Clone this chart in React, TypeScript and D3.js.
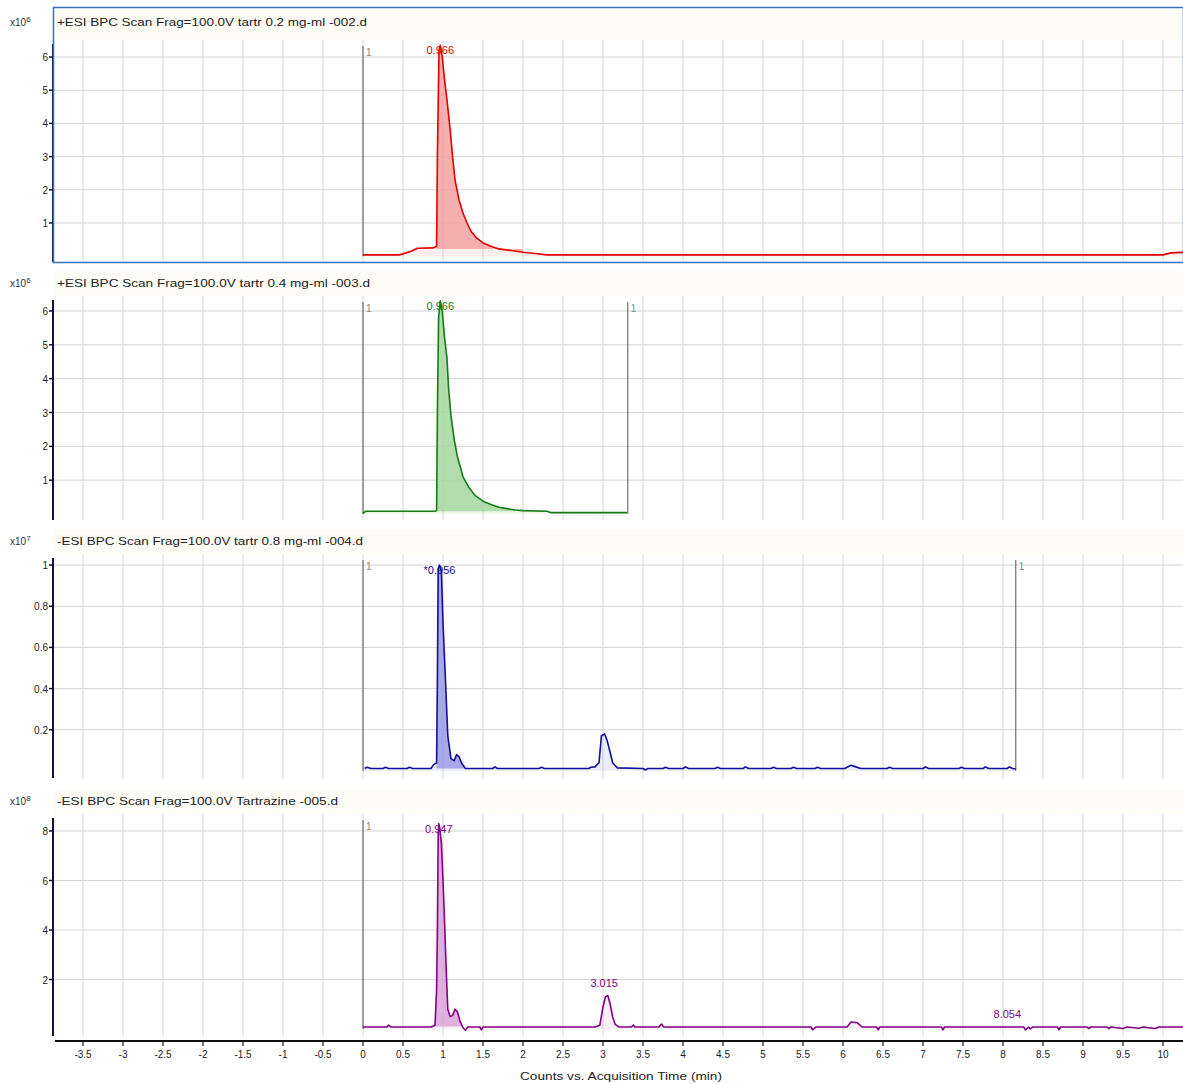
import React from "react";
import * as d3 from "d3";

// ---------- DATA ----------
const xTickValues = [-3.5, -3, -2.5, -2, -1.5, -1, -0.5, 0, 0.5, 1, 1.5, 2, 2.5, 3, 3.5, 4, 4.5, 5, 5.5, 6, 6.5, 7, 7.5, 8, 8.5, 9, 9.5, 10];
const xTickLabels = ["-3.5", "-3", "-2.5", "-2", "-1.5", "-1", "-0.5", "0", "0.5", "1", "1.5", "2", "2.5", "3", "3.5", "4", "4.5", "5", "5.5", "6", "6.5", "7", "7.5", "8", "8.5", "9", "9.5", "10"];
const xAxisTitle = "Counts vs. Acquisition Time (min)";

const panelTitles = [
  "+ESI BPC Scan Frag=100.0V tartr 0.2 mg-ml -002.d",
  "+ESI BPC Scan Frag=100.0V tartr 0.4 mg-ml -003.d",
  "-ESI BPC Scan Frag=100.0V tartr 0.8 mg-ml -004.d",
  "-ESI BPC Scan Frag=100.0V Tartrazine -005.d",
];
const exponents = ["6", "6", "7", "8"];

const yTicks1 = [1, 2, 3, 4, 5, 6];
const yTicks2 = [1, 2, 3, 4, 5, 6];
const yTicks3 = [0.2, 0.4, 0.6, 0.8, 1];
const yTicks4 = [2, 4, 6, 8];

const seriesColors = ["#e00000", "#167a16", "#10109a", "#840084"];
const fillColors = ["#f4a3a3", "#a6d8a0", "#9c9ce6", "#dba6db"];

// [time (min), counts in panel units]
const trace1: [number, number][] = [
  [0, 0.04], [0.45, 0.04], [0.5, 0.07], [0.6, 0.15], [0.68, 0.24], [0.88, 0.25], [0.92, 0.3],
  [0.93, 3.0], [0.95, 6.2], [0.966, 6.35], [0.99, 6.0], [1.02, 5.3], [1.05, 4.7], [1.09, 3.8],
  [1.12, 3.0], [1.15, 2.3], [1.2, 1.7], [1.25, 1.3], [1.3, 1.0], [1.35, 0.75], [1.42, 0.55],
  [1.5, 0.4], [1.6, 0.3], [1.7, 0.22], [1.85, 0.17], [2.0, 0.12], [2.15, 0.08], [2.3, 0.04],
  [5, 0.04], [8, 0.04], [10.0, 0.04], [10.1, 0.1], [10.3, 0.12],
];
const trace2: [number, number][] = [
  [0, 0.02], [0.03, 0.08], [0.5, 0.08], [0.9, 0.08], [0.92, 0.1], [0.93, 3.0], [0.945, 5.8],
  [0.966, 6.3], [0.99, 6.0], [1.02, 5.2], [1.05, 4.6], [1.07, 3.7], [1.1, 2.9], [1.14, 2.2],
  [1.18, 1.7], [1.25, 1.1], [1.32, 0.8], [1.4, 0.55], [1.5, 0.38], [1.6, 0.28], [1.7, 0.2],
  [1.8, 0.16], [1.9, 0.12], [2.0, 0.1], [2.3, 0.08], [2.35, 0.04], [3.0, 0.04], [3.3, 0.04],
];
const trace3: [number, number][] = [
  [0.02, 0.012], [0.05, 0.018], [0.1, 0.012], [0.25, 0.012], [0.28, 0.018], [0.32, 0.012],
  [0.55, 0.012], [0.58, 0.018], [0.62, 0.012], [0.85, 0.012], [0.88, 0.03], [0.92, 0.04],
  [0.93, 0.45], [0.94, 0.98], [0.956, 1.0], [0.98, 0.97], [1.0, 0.72], [1.03, 0.45],
  [1.06, 0.17], [1.1, 0.06], [1.14, 0.05], [1.17, 0.08], [1.2, 0.07], [1.23, 0.04], [1.28, 0.012],
  [1.62, 0.012], [1.65, 0.02], [1.68, 0.012], [2.2, 0.012], [2.23, 0.018], [2.27, 0.012],
  [2.82, 0.012], [2.85, 0.018], [2.9, 0.02], [2.95, 0.04], [2.98, 0.17], [3.02, 0.18],
  [3.05, 0.15], [3.09, 0.09], [3.12, 0.04], [3.18, 0.015], [3.5, 0.012], [3.53, 0.005],
  [3.56, 0.012], [3.75, 0.012], [3.78, 0.018], [3.82, 0.012], [4.0, 0.012], [4.03, 0.02],
  [4.07, 0.012], [4.4, 0.012], [4.43, 0.018], [4.47, 0.012], [4.75, 0.012], [4.78, 0.02],
  [4.82, 0.012], [5.1, 0.012], [5.13, 0.018], [5.17, 0.012], [5.35, 0.012], [5.38, 0.018],
  [5.42, 0.012], [5.65, 0.012], [5.68, 0.018], [5.72, 0.012], [6.02, 0.012], [6.1, 0.028],
  [6.16, 0.02], [6.22, 0.012], [6.55, 0.012], [6.58, 0.018], [6.62, 0.012], [7.0, 0.012],
  [7.03, 0.02], [7.07, 0.012], [7.45, 0.012], [7.48, 0.018], [7.52, 0.012], [7.75, 0.012],
  [7.78, 0.02], [7.82, 0.012], [8.05, 0.012], [8.08, 0.02], [8.12, 0.012], [8.16, 0.01],
];
const trace4: [number, number][] = [
  [0, 0.08], [0.3, 0.08], [0.32, 0.16], [0.35, 0.08], [0.85, 0.08], [0.88, 0.12], [0.9, 0.15],
  [0.92, 1.6], [0.93, 4.0], [0.94, 7.8], [0.947, 8.3], [0.96, 8.1], [0.98, 7.5], [1.0, 6.0],
  [1.02, 4.3], [1.04, 2.4], [1.06, 0.8], [1.09, 0.5], [1.12, 0.55], [1.15, 0.8], [1.18, 0.7],
  [1.21, 0.35], [1.25, 0.05], [1.28, -0.05], [1.31, 0.08], [1.46, 0.08], [1.48, -0.03],
  [1.5, 0.08], [2.9, 0.08], [2.96, 0.15], [3.0, 0.9], [3.03, 1.3], [3.06, 1.35], [3.09, 1.0],
  [3.12, 0.5], [3.15, 0.2], [3.2, 0.08], [3.35, 0.08], [3.38, 0.16], [3.4, 0.08], [3.7, 0.08],
  [3.73, 0.2], [3.76, 0.08], [5.6, 0.08], [5.62, -0.03], [5.66, 0.08], [6.05, 0.08],
  [6.1, 0.28], [6.18, 0.25], [6.24, 0.08], [6.42, 0.08], [6.44, -0.03], [6.46, 0.08],
  [7.23, 0.08], [7.25, -0.03], [7.27, 0.08], [8.26, 0.08], [8.28, -0.04], [8.32, 0.08],
  [8.34, 0.0], [8.37, 0.08], [8.68, 0.08], [8.7, -0.03], [8.72, 0.08], [9.05, 0.08],
  [9.07, 0.02], [9.1, 0.08], [9.3, 0.08], [9.32, 0.02], [9.35, 0.08], [9.5, 0.02], [9.55, 0.08],
  [9.7, 0.03], [9.75, 0.08], [9.9, 0.02], [9.95, 0.08], [10.3, 0.08],
];

const peakFill1: [number, number, number] = [0.92, 2.05, 0.22];
const peakFill2: [number, number, number] = [0.92, 1.95, 0.08];
const peakFill3: [number, number, number] = [0.92, 1.28, 0.012];
const peakFill4: [number, number, number] = [0.9, 1.25, 0.1];

const markers1 = [0];
const markers2 = [0, 3.31];
const markers3 = [0, 8.16];
const markers4 = [0];

const peakLabels1 = [{ x: 0.966, y: 6.35, text: "0.966", main: true }];
const peakLabels2 = [{ x: 0.966, y: 6.3, text: "0.966", main: true }];
const peakLabels3 = [{ x: 0.956, y: 1.0, text: "*0.956", main: true }];
const peakLabels4 = [
  { x: 0.947, y: 8.3, text: "0.947", main: true },
  { x: 3.015, y: 1.35, text: "3.015", main: false },
  { x: 8.054, y: 0.08, text: "8.054", main: false },
];

// ---------- LAYOUT ----------
const W = 1183;
const H = 1084;
const axisX = 53;
const xScale = d3.scaleLinear().domain([0, 10]).range([363, 1163]);

const layouts = [
  { headerY: 22, top: 42, bottom: 262, zeroY: 256.2, refTick: 6, refY: 57 },
  { headerY: 283, top: 298, bottom: 520, zeroY: 514, refTick: 6, refY: 311 },
  { headerY: 541, top: 556, bottom: 778, zeroY: 771, refTick: 1, refY: 565 },
  { headerY: 801, top: 816, bottom: 1036, zeroY: 1029, refTick: 8, refY: 831 },
];

const panelData = [
  { ticks: yTicks1, trace: trace1, fill: peakFill1, markers: markers1, labels: peakLabels1 },
  { ticks: yTicks2, trace: trace2, fill: peakFill2, markers: markers2, labels: peakLabels2 },
  { ticks: yTicks3, trace: trace3, fill: peakFill3, markers: markers3, labels: peakLabels3 },
  { ticks: yTicks4, trace: trace4, fill: peakFill4, markers: markers4, labels: peakLabels4 },
];

const titleWidths = [310, 313, 306, 281];
const font = "'Liberation Sans', Arial, sans-serif";

function Panel({ i }: { i: number }) {
  const L = layouts[i];
  const D = panelData[i];
  const y = d3.scaleLinear().domain([0, L.refTick]).range([L.zeroY, L.refY]);
  const color = seriesColors[i];
  const line = d3.line<[number, number]>().x((d) => xScale(d[0])).y((d) => y(d[1]));
  const [f0, f1, fb] = D.fill;
  const fillPts = D.trace.filter((d) => d[0] >= f0 && d[0] <= f1);
  const area = d3
    .area<[number, number]>()
    .x((d) => xScale(d[0]))
    .y0(() => y(fb))
    .y1((d) => y(d[1]));
  const gridX = d3.range(-3.5, 10.51, 0.5);
  const bgArea = d3
    .area<[number, number]>()
    .x((d) => xScale(d[0]))
    .y0(() => y(0))
    .y1((d) => y(d[1]));
  return (
    <g>
      <rect x={axisX} y={L.headerY - 12} width={W - axisX} height={L.top - L.headerY + 10} fill="#fdfcf6" />
      <rect x={axisX} y={L.top - 2} width={W - axisX} height={L.bottom - L.top + 2} fill="#ffffff" />
      {gridX.map((gx) => (
        <line key={"gx" + gx} x1={xScale(gx)} x2={xScale(gx)} y1={L.top - 2} y2={L.bottom} stroke="#d4d4d4" strokeWidth={1} />
      ))}
      {D.ticks.map((t) => (
        <line key={"gy" + t} x1={axisX} x2={W} y1={y(t)} y2={y(t)} stroke="#d4d4d4" strokeWidth={1} />
      ))}
      <path d={bgArea(D.trace) || ""} fill={fillColors[i]} opacity={0.18} />
      <path d={area(fillPts) || ""} fill={fillColors[i]} opacity={0.85} />
      {D.markers.map((m) => (
        <g key={"m" + m}>
          <line x1={xScale(m)} x2={xScale(m)} y1={L.top + 4} y2={y(0)} stroke="#555" strokeWidth={1} />
          <text x={xScale(m) + 3} y={L.top + 14} fontSize={10} fill="#888" fontFamily={font}>1</text>
        </g>
      ))}
      <path d={line(D.trace) || ""} fill="none" stroke={color} strokeWidth={1.6} strokeLinejoin="round" />
      {D.labels.map((lb) => (
        <text
          key={lb.text}
          x={xScale(lb.x)}
          y={lb.main ? y(lb.y) + 9 : y(lb.y) - 9}
          textAnchor="middle"
          fontSize={11}
          fill={color}
          fontFamily={font}
        >
          {lb.text}
        </text>
      ))}
      <line x1={axisX} x2={axisX} y1={L.top + 2} y2={L.bottom} stroke="#121238" strokeWidth={2} />
      {D.ticks.map((t) => (
        <g key={"yt" + t}>
          <line x1={axisX - 4} x2={axisX} y1={y(t)} y2={y(t)} stroke="#121238" strokeWidth={1.5} />
          <text x={axisX - 5} y={y(t) + 4} textAnchor="end" fontSize={10} fill="#222" fontFamily={font}>
            {String(t)}
          </text>
        </g>
      ))}
      <text x={10} y={L.headerY + 4} fontSize={10} fill="#333" fontFamily={font}>
        x10<tspan dy={-4} fontSize={8}>{exponents[i]}</tspan>
      </text>
      <text
        x={57}
        y={L.headerY + 4}
        fontSize={10.5}
        fill="#222"
        fontFamily={font}
        textLength={titleWidths[i]}
        lengthAdjust="spacingAndGlyphs"
      >
        {panelTitles[i]}
      </text>
    </g>
  );
}

export default function App() {
  const axisY = 1041;
  return (
    <svg width={W} height={H} style={{ position: "absolute", left: 0, top: 0, background: "#fff" }}>
      <rect x={0} y={0} width={W} height={H} fill="#ffffff" />
      {[0, 1, 2, 3].map((i) => (
        <Panel key={i} i={i} />
      ))}
      <rect x={axisX + 0.5} y={7.5} width={W - axisX} height={255} fill="none" stroke="#3d6fbf" strokeWidth={1.5} />
      <line x1={55} x2={W} y1={axisY} y2={axisY} stroke="#111" strokeWidth={2} />
      {xTickValues.map((v, k) => (
        <g key={"xt" + v}>
          <line x1={xScale(v)} x2={xScale(v)} y1={axisY} y2={axisY + 5} stroke="#111" strokeWidth={1.2} />
          <text x={xScale(v)} y={axisY + 17} textAnchor="middle" fontSize={10} fill="#222" fontFamily={font}>
            {xTickLabels[k]}
          </text>
        </g>
      ))}
      <text x={621} y={1080} textAnchor="middle" fontSize={10} fill="#222" fontFamily={font} textLength={202} lengthAdjust="spacingAndGlyphs">
        {xAxisTitle}
      </text>
    </svg>
  );
}
